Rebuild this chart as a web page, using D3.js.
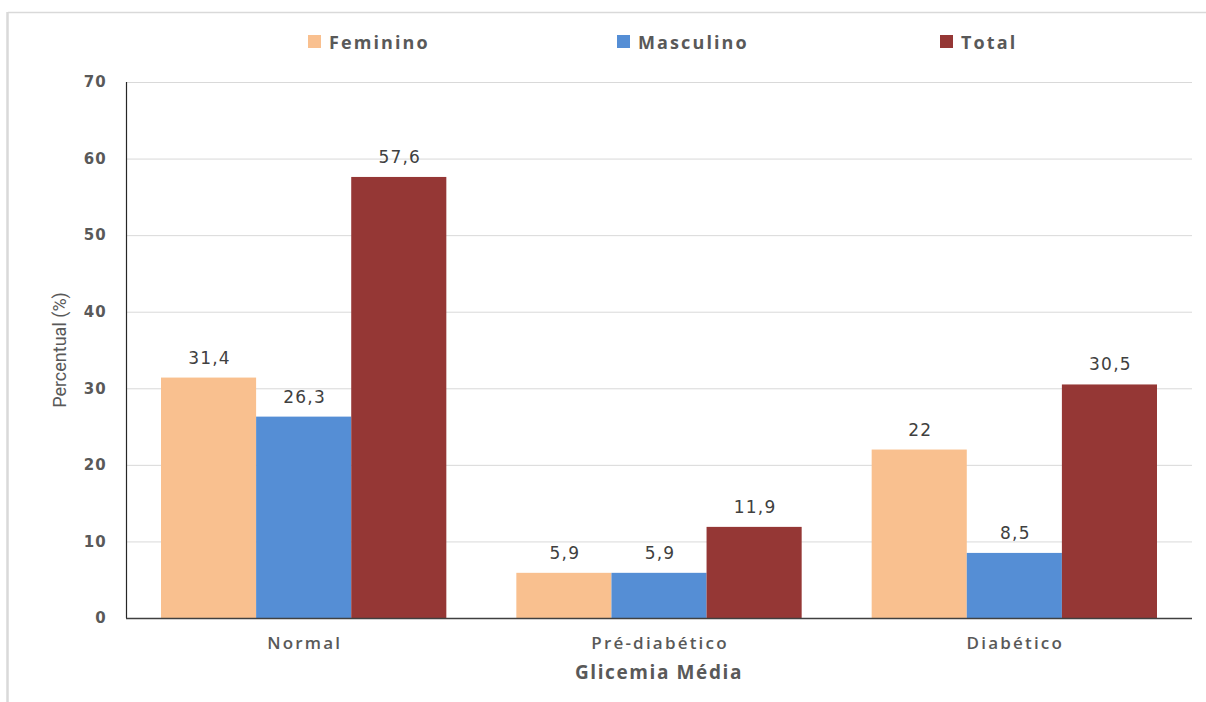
<!DOCTYPE html>
<html>
<head>
<meta charset="utf-8">
<script src="https://cdn.jsdelivr.net/npm/d3@7"></script>
<style>
  body { margin: 0; background: #fff; }
  text { fill: #595959; }
</style>
</head>
<body>
<div id="chart"></div>
<script>
// data
const categories = ['Normal', 'Pré-diabético', 'Diabético']
const seriesNames = ['Feminino', 'Masculino', 'Total']
const feminino = [31.4, 5.9, 22]
const masculino = [26.3, 5.9, 8.5]
const total = [57.6, 11.9, 30.5]
const yTicks = [0, 10, 20, 30, 40, 50, 60, 70]
const colors = ['#F9C08F', '#558ED5', '#953735']

const width = 1206, height = 702
const margin = { top: 82, right: 14, bottom: 84, left: 126 }

const svg = d3.select('#chart')
  .append('svg')
  .attr('width', width)
  .attr('height', height)

// outer frame (only top and left edges visible)
svg.append('line').attr('x1', 8).attr('x2', width).attr('y1', 12.5).attr('y2', 12.5)
  .style('stroke', '#d9d9d9').style('stroke-width', 1.5)
svg.append('line').attr('x1', 7.5).attr('x2', 7.5).attr('y1', 12).attr('y2', height)
  .style('stroke', '#d9d9d9').style('stroke-width', 2.5)

const x = d3.scaleBand()
  .domain(categories)
  .range([margin.left, width - margin.right])
  .paddingInner(0.197)
  .paddingOuter(0.0985)

const xs = d3.scaleBand().domain(seriesNames).range([0, x.bandwidth()])

const y = d3.scaleLinear().domain([0, 70]).range([height - margin.bottom, margin.top])

// grid
svg.append('g')
  .selectAll('line')
  .data(yTicks.filter(d => d > 0))
  .join('line')
  .attr('x1', margin.left)
  .attr('x2', width - margin.right)
  .attr('y1', d => y(d) + 0.5)
  .attr('y2', d => y(d) + 0.5)
  .style('stroke', '#d9d9d9')

// y axis tick labels
const yAxis = svg.append('g')
  .attr('transform', `translate(${margin.left}, 0)`)
  .call(d3.axisLeft(y).tickValues(yTicks).tickSize(0).tickPadding(19))
yAxis.select('.domain').remove()
yAxis.selectAll('text')
  .style('font-family', 'DejaVu Sans, Verdana, sans-serif')
  .style('font-weight', 'bold')
  .style('font-size', '15px')
  .style('letter-spacing', '1.2px')
  .style('fill', '#595959')

// bars
const rows = categories.map((c, i) => ({ cat: c, vals: [feminino[i], masculino[i], total[i]] }))
const groups = svg.append('g')
  .selectAll('g')
  .data(rows)
  .join('g')
  .attr('transform', d => `translate(${x(d.cat)}, 0)`)

groups.selectAll('rect')
  .data(d => d.vals.map((v, j) => ({ name: seriesNames[j], v: v, j: j })))
  .join('rect')
  .attr('x', d => xs(d.name))
  .attr('y', d => y(d.v))
  .attr('width', xs.bandwidth())
  .attr('height', d => y(0) - y(d.v))
  .attr('fill', d => colors[d.j])

groups.selectAll('text')
  .data(d => d.vals.map((v, j) => ({ name: seriesNames[j], v: v })))
  .join('text')
  .attr('x', d => xs(d.name) + xs.bandwidth() / 2 + 1)
  .attr('y', d => y(d.v) - 14)
  .attr('text-anchor', 'middle')
  .text(d => String(d.v).replace('.', ','))
  .style('font-family', 'DejaVu Sans, Verdana, sans-serif')
  .style('font-size', '17px')
  .style('letter-spacing', '1.2px')
  .style('fill', '#404040')

// axis lines
svg.append('line')
  .attr('x1', margin.left + 0.5).attr('x2', margin.left + 0.5)
  .attr('y1', y(70)).attr('y2', y(0))
  .style('stroke', '#262626').style('stroke-width', 1.2)
svg.append('line')
  .attr('x1', margin.left).attr('x2', width - margin.right)
  .attr('y1', y(0) + 0.5).attr('y2', y(0) + 0.5)
  .style('stroke', '#404040').style('stroke-width', 1.5)

// x labels
svg.append('g')
  .selectAll('text')
  .data(categories)
  .join('text')
  .attr('x', d => x(d) + x.bandwidth() / 2 + 1)
  .attr('y', 649)
  .attr('text-anchor', 'middle')
  .text(d => d)
  .style('font-family', 'Open Sans, sans-serif')
  .style('font-weight', '600')
  .style('font-size', '17px')
  .style('letter-spacing', '2.2px')
  .style('fill', '#595959')

// axis titles
svg.append('text')
  .attr('x', (margin.left + width - margin.right) / 2)
  .attr('y', 679)
  .attr('text-anchor', 'middle')
  .text('Glicemia Média')
  .style('font-family', 'Open Sans, sans-serif')
  .style('font-weight', 'bold')
  .style('font-size', '19px')
  .style('letter-spacing', '1.6px')
  .style('fill', '#595959')

svg.append('text')
  .attr('transform', `translate(66, ${(y(0) + y(70)) / 2}) rotate(-90)`)
  .attr('text-anchor', 'middle')
  .text('Percentual (%)')
  .style('font-family', 'Liberation Sans Narrow, Roboto, sans-serif')
  .style('font-size', '18px')
  .style('fill', '#595959')

// legend
const legendX = [308, 617, 940]
const legend = svg.append('g')
  .selectAll('g')
  .data(seriesNames)
  .join('g')
  .attr('transform', (d, i) => `translate(${legendX[i]}, 35)`)
legend.append('rect')
  .attr('width', 13).attr('height', 13)
  .attr('fill', (d, i) => colors[i])
legend.append('text')
  .attr('x', 21)
  .attr('y', 14)
  .text(d => d)
  .style('font-family', 'Open Sans, sans-serif')
  .style('font-weight', 'bold')
  .style('font-size', '18px')
  .style('letter-spacing', '2.1px')
  .style('fill', '#595959')
</script>
</body>
</html>
